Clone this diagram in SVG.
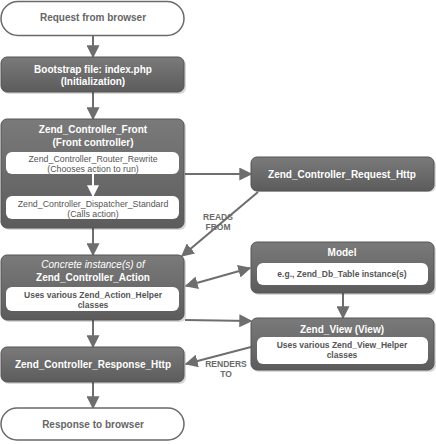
<svg xmlns="http://www.w3.org/2000/svg" width="436" height="444" viewBox="0 0 436 444">
<defs>
<linearGradient id="dk" x1="0" y1="0" x2="0" y2="1">
<stop offset="0" stop-color="#7a7a7a"/>
<stop offset="1" stop-color="#5c5c5c"/>
</linearGradient>
<marker id="ahw" viewBox="0 0 10 10" refX="9" refY="5" markerWidth="12" markerHeight="12" orient="auto" markerUnits="userSpaceOnUse">
<path d="M0,0 L10,5 L0,10 z" fill="#ffffff"/>
</marker>
<marker id="ahb" viewBox="0 0 10 10" refX="9" refY="5" markerWidth="13" markerHeight="13" orient="auto-start-reverse" markerUnits="userSpaceOnUse">
<path d="M0,0 L10,5 L0,10 z" fill="#6e6e6e"/>
</marker>
</defs>
<style>
.dark{fill:url(#dk);stroke:#555;stroke-width:1}
.shadow{fill:#000;opacity:0.15}
.pill{fill:#fff;stroke:#6a6a6a;stroke-width:1.5}
.inner{fill:#fff;stroke:none}
text{font-family:"Liberation Sans",Arial,sans-serif;text-anchor:middle}
.t{fill:#fff;font-weight:bold;font-size:10px}
.p{fill:#666;font-weight:bold;font-size:10px}
.i{fill:#555;font-size:8.8px}
.ib{fill:#555;font-size:8.5px;font-weight:bold}
.lbl{fill:#6a6a6a;font-size:8.5px;font-weight:bold}
.c{stroke:#6e6e6e;stroke-width:2;fill:none;marker-end:url(#ahb)}
</style>

<g id="connectors">
<line class="c" x1="93" y1="35" x2="93" y2="57"/>
<line class="c" x1="93" y1="92" x2="93" y2="119"/>
<line class="c" x1="93" y1="228" x2="93" y2="255"/>
<line class="c" x1="93" y1="320" x2="93" y2="347"/>
<line class="c" x1="93" y1="382" x2="93" y2="408"/>
<line class="c" x1="185" y1="174" x2="251" y2="174"/>
<line class="c" x1="258" y1="192" x2="182" y2="256"/>
<line class="c" x1="250" y1="268" x2="186" y2="286" style="marker-start:url(#ahb)"/>
<line class="c" x1="185" y1="320" x2="251" y2="321"/>
<line class="c" x1="343" y1="293" x2="343" y2="318"/>
<line class="c" x1="251" y1="347" x2="186" y2="364"/>
<text class="lbl" x="218" y="220">READS</text>
<text class="lbl" x="218" y="230">FROM</text>
<text class="lbl" x="226" y="367">RENDERS</text>
<text class="lbl" x="226" y="377">TO</text>
</g>

<g id="request">
<rect class="pill" x="1" y="1.5" width="183" height="34" rx="17"/>
<text class="p" x="93" y="21">Request from browser</text>
</g>

<g id="bootstrap">
<rect class="shadow" x="3" y="59" width="183" height="35" rx="6"/>
<rect class="dark" x="1" y="57" width="183" height="35" rx="6"/>
<text class="t" x="93" y="73">Bootstrap file: index.php</text>
<text class="t" x="93" y="85">(Initialization)</text>
</g>

<g id="front">
<rect class="shadow" x="3" y="121" width="183" height="109" rx="6"/>
<rect class="dark" x="1" y="119" width="183" height="109" rx="6"/>
<text class="t" x="93" y="133">Zend_Controller_Front</text>
<text class="t" x="93" y="146">(Front controller)</text>
<rect class="inner" x="6" y="152" width="173" height="22" rx="6"/>
<text class="i" x="93" y="162">Zend_Controller_Router_Rewrite</text>
<text class="i" x="93" y="172">(Chooses action to run)</text>
<line x1="93" y1="174" x2="93" y2="196" stroke="#fff" stroke-width="2" marker-end="url(#ahw)"/>
<rect class="inner" x="6" y="196" width="173" height="23" rx="6"/>
<text class="i" x="93" y="207">Zend_Controller_Dispatcher_Standard</text>
<text class="i" x="93" y="217">(Calls action)</text>
</g>

<g id="action">
<rect class="shadow" x="3" y="257" width="183" height="65" rx="6"/>
<rect class="dark" x="1" y="255" width="183" height="65" rx="6"/>
<text x="93" y="268" style="fill:#fff;font-style:italic;font-size:10px">Concrete instance(s) of</text>
<text class="t" x="93" y="281">Zend_Controller_Action</text>
<rect class="inner" x="6" y="287" width="173" height="24" rx="6"/>
<text class="ib" x="93" y="298">Uses various Zend_Action_Helper</text>
<text class="ib" x="93" y="308">classes</text>
</g>

<g id="response-http">
<rect class="shadow" x="3" y="349" width="183" height="35" rx="6"/>
<rect class="dark" x="1" y="347" width="183" height="35" rx="6"/>
<text class="t" x="93" y="368">Zend_Controller_Response_Http</text>
</g>

<g id="response-browser">
<rect class="pill" x="1" y="408" width="183" height="32" rx="16"/>
<text class="p" x="93" y="428">Response to browser</text>
</g>

<g id="request-http">
<rect class="shadow" x="253" y="159" width="183" height="33" rx="6"/>
<rect class="dark" x="251" y="157" width="183" height="34" rx="6"/>
<text class="t" x="342" y="178">Zend_Controller_Request_Http</text>
</g>

<g id="model">
<rect class="shadow" x="253" y="244" width="183" height="51" rx="6"/>
<rect class="dark" x="251" y="242" width="183" height="51" rx="6"/>
<text class="t" x="342" y="256">Model</text>
<rect class="inner" x="257" y="263" width="171" height="22" rx="6"/>
<text class="ib" x="342" y="277">e.g., Zend_Db_Table instance(s)</text>
</g>

<g id="view">
<rect class="shadow" x="253" y="320" width="183" height="52" rx="6"/>
<rect class="dark" x="251" y="318" width="183" height="52" rx="6"/>
<text class="t" x="342" y="333">Zend_View (View)</text>
<rect class="inner" x="257" y="337" width="171" height="27" rx="6"/>
<text class="ib" x="342" y="348">Uses various Zend_View_Helper</text>
<text class="ib" x="342" y="358">classes</text>
</g>
</svg>
